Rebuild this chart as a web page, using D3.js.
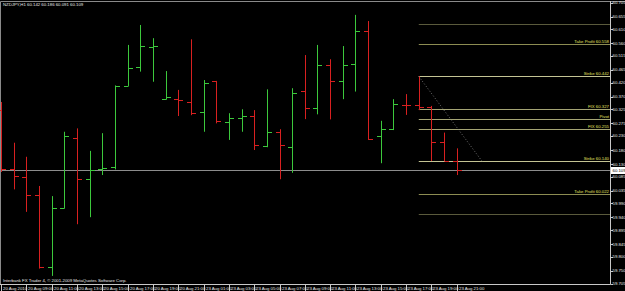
<!DOCTYPE html>
<html>
<head>
<meta charset="utf-8">
<script src="https://cdn.jsdelivr.net/npm/d3@7"></script>
<style>
  html, body { margin: 0; padding: 0; background: #000; }
  svg { display: block; }
  text { font-family: "Liberation Sans", Arial, sans-serif; }
</style>
</head>
<body>
<div class="svg-container"></div>
<script>
// hourly bars, NZDJPY H1
const barTimes = [
  '20 Aug 07:00', '20 Aug 08:00', '20 Aug 09:00', '20 Aug 10:00', '20 Aug 11:00',
  '20 Aug 12:00', '20 Aug 13:00', '20 Aug 14:00', '20 Aug 15:00', '20 Aug 16:00',
  '20 Aug 17:00', '20 Aug 18:00', '20 Aug 19:00', '20 Aug 20:00', '20 Aug 21:00',
  '23 Aug 00:00', '23 Aug 01:00', '23 Aug 02:00', '23 Aug 03:00', '23 Aug 04:00',
  '23 Aug 05:00', '23 Aug 06:00', '23 Aug 07:00', '23 Aug 08:00', '23 Aug 09:00',
  '23 Aug 10:00', '23 Aug 11:00', '23 Aug 12:00', '23 Aug 13:00', '23 Aug 14:00',
  '23 Aug 15:00', '23 Aug 16:00', '23 Aug 17:00', '23 Aug 18:00', '23 Aug 19:00',
  '23 Aug 20:00', '23 Aug 21:00'
];
const opens = [60.322, 60.114, 60.085, 60.020, 59.763, 59.973, 60.224, 60.076, 60.112, 60.119,
  60.409, 60.477, 60.548, 60.361, 60.362, 60.350, 60.314, 60.424, 60.279, 60.294,
  60.301, 60.194, 60.244, 60.190, 60.390, 60.331, 60.482, 60.426, 60.486, 60.604,
  60.230, 60.254, 60.342, 60.340, 60.334, 60.207, 60.142];
const highs = [60.351, 60.206, 60.156, 60.052, 60.016, 60.245, 60.257, 60.177, 60.240, 60.410,
  60.554, 60.625, 60.578, 60.461, 60.394, 60.574, 60.429, 60.426, 60.311, 60.325,
  60.322, 60.396, 60.254, 60.400, 60.518, 60.554, 60.503, 60.550, 60.661, 60.639,
  60.284, 60.361, 60.379, 60.442, 60.337, 60.242, 60.186];
const lows = [60.102, 60.040, 59.960, 59.758, 59.732, 59.972, 59.916, 59.941, 60.091, 60.111,
  60.408, 60.459, 60.423, 60.360, 60.301, 60.304, 60.245, 60.275, 60.216, 60.245,
  60.180, 60.190, 60.076, 60.099, 60.290, 60.307, 60.289, 60.361, 60.388, 60.216,
  60.133, 60.251, 60.305, 60.322, 60.141, 60.141, 60.091];
const closes = [60.114, 60.086, 60.020, 59.762, 59.973, 60.229, 60.076, 60.109, 60.115, 60.409,
  60.471, 60.549, 60.550, 60.368, 60.359, 60.311, 60.417, 60.282, 60.293, 60.301,
  60.197, 60.244, 60.197, 60.382, 60.331, 60.483, 60.426, 60.483, 60.605, 60.220,
  60.255, 60.343, 60.339, 60.334, 60.210, 60.142, 60.109];

// time axis labels (every second bar)
const timeLabels = ['20 Aug 2010', '20 Aug 09:00', '20 Aug 11:00', '20 Aug 13:00', '20 Aug 15:00',
  '20 Aug 17:00', '20 Aug 19:00', '20 Aug 21:00', '23 Aug 01:00', '23 Aug 03:00',
  '23 Aug 05:00', '23 Aug 07:00', '23 Aug 09:00', '23 Aug 11:00', '23 Aug 13:00',
  '23 Aug 15:00', '23 Aug 17:00', '23 Aug 19:00', '23 Aug 21:00'];

// price axis labels
const priceLabels = ['60.705', '60.655', '60.610', '60.560', '60.515', '60.465', '60.420', '60.370',
  '60.325', '60.275', '60.230', '60.180', '60.130', '60.085', '60.035', '59.990', '59.940',
  '59.895', '59.845', '59.800', '59.750', '59.705'];

// pivot tool levels
const levelNames = ['', 'Take Profit', 'Strike', 'FIX', 'Pivot', 'FIX', 'Strike', 'Take Profit', ''];
const levelValues = [60.628, 60.558, 60.442, 60.327, 60.291, 60.255, 60.140, 60.022, 59.952];
const levelKinds = ['edge', 'tp', 'strike', 'fix', 'fix', 'fix', 'strike', 'tp', 'edge'];
const levelStartBar = 33;

// trend line (bar index, price)
const trendBars = [33, 38];
const trendPrices = [60.442, 60.140];

const symbolTitle = 'NZDJPY,H1';

function renderChart() {
  const width = 625;
  const height = 291;
  const plotRight = 610.5;
  const plotBottom = 284.5;

  const bars = barTimes.map((t, i) => ({
    i, t, o: opens[i], h: highs[i], l: lows[i], c: closes[i]
  }));

  const x = d3.scaleLinear()
    .domain([0, barTimes.length - 1])
    .range([1, 1 + 12.66 * (barTimes.length - 1)]);

  const y = d3.scaleLinear()
    .domain([59.705, 60.705])
    .range([283.5, 2.5]);

  const levelColour = { edge: '#5a5a3c', tp: '#8c8c52', strike: '#c4c494', fix: '#a4a474' };

  const svg = d3.select('.svg-container')
    .append('svg')
    .attr('width', width)
    .attr('height', height);

  svg.append('rect')
    .attr('width', width).attr('height', height)
    .attr('fill', '#000');

  // frame
  svg.append('path')
    .attr('d', `M0.5,${plotBottom} V1.5 H${width}`)
    .attr('fill', 'none')
    .attr('stroke', '#8a8a8a')
    .attr('stroke-width', 1);

  // pivot levels
  const levels = svg.append('g');
  levels.selectAll('line')
    .data(levelValues)
    .enter()
    .append('line')
    .attr('x1', x(levelStartBar))
    .attr('x2', plotRight)
    .attr('y1', d => Math.round(y(d)) + 0.5)
    .attr('y2', d => Math.round(y(d)) + 0.5)
    .attr('stroke', (d, i) => levelColour[levelKinds[i]])
    .attr('stroke-width', 1);

  levels.selectAll('text')
    .data(levelValues)
    .enter()
    .append('text')
    .attr('x', plotRight - 1.5)
    .attr('y', d => Math.round(y(d)) - 0.8)
    .attr('text-anchor', 'end')
    .attr('font-size', 4.3)
    .attr('fill', '#e0e060')
    .text((d, i) => {
      if (!levelNames[i]) return '';
      if (levelNames[i] === 'Pivot') return 'Pivot';
      return `${levelNames[i]}    ${d.toFixed(3)}`;
    });

  // dotted trend line
  svg.append('line')
    .attr('x1', x(trendBars[0])).attr('y1', y(trendPrices[0]))
    .attr('x2', x(trendBars[1])).attr('y2', y(trendPrices[1]))
    .attr('stroke', '#8a8a8a')
    .attr('stroke-width', 0.8)
    .attr('stroke-dasharray', '1,2');

  // bid line
  const last = bars[bars.length - 1];
  const bidY = Math.round(y(last.c)) + 0.5;
  svg.append('line')
    .attr('x1', 0).attr('x2', plotRight)
    .attr('y1', bidY).attr('y2', bidY)
    .attr('stroke', '#8c8c8c')
    .attr('stroke-width', 1);

  // OHLC bars
  const barGroup = svg.selectAll('g.bar')
    .data(bars)
    .enter()
    .append('g')
    .attr('class', 'bar')
    .attr('stroke', d => d.c >= d.o ? '#3cc83c' : '#d82020')
    .attr('stroke-width', 1);

  barGroup.append('line')
    .attr('x1', d => Math.round(x(d.i)) + 0.5)
    .attr('x2', d => Math.round(x(d.i)) + 0.5)
    .attr('y1', d => y(d.h))
    .attr('y2', d => y(d.l));

  barGroup.append('line')
    .attr('x1', d => Math.round(x(d.i)) - 4)
    .attr('x2', d => Math.round(x(d.i)) + 0.5)
    .attr('y1', d => Math.round(y(d.o)) + 0.5)
    .attr('y2', d => Math.round(y(d.o)) + 0.5);

  barGroup.append('line')
    .attr('x1', d => Math.round(x(d.i)) + 0.5)
    .attr('x2', d => Math.round(x(d.i)) + 5)
    .attr('y1', d => Math.round(y(d.c)) + 0.5)
    .attr('y2', d => Math.round(y(d.c)) + 0.5);

  // price axis
  svg.append('line')
    .attr('x1', plotRight).attr('x2', plotRight)
    .attr('y1', 1).attr('y2', plotBottom)
    .attr('stroke', '#c8c8c8');

  const priceAxis = svg.append('g');
  priceAxis.selectAll('line')
    .data(priceLabels)
    .enter()
    .append('line')
    .attr('x1', plotRight).attr('x2', plotRight + 2.5)
    .attr('y1', d => Math.round(y(+d)) + 0.5)
    .attr('y2', d => Math.round(y(+d)) + 0.5)
    .attr('stroke', '#c8c8c8');

  priceAxis.selectAll('text')
    .data(priceLabels)
    .enter()
    .append('text')
    .attr('x', plotRight + 2)
    .attr('y', d => y(+d) + 1.5)
    .attr('font-size', 4.3)
    .attr('fill', '#e8e8e8')
    .text(d => d);

  // current price tag
  svg.append('rect')
    .attr('x', plotRight + 0.5).attr('y', bidY - 3.5)
    .attr('width', width - plotRight).attr('height', 7)
    .attr('fill', '#ffffff');
  svg.append('text')
    .attr('x', plotRight + 2).attr('y', bidY + 1.5)
    .attr('font-size', 4.3)
    .attr('fill', '#000')
    .text(last.c.toFixed(3));

  // time axis
  svg.append('line')
    .attr('x1', 0).attr('x2', plotRight)
    .attr('y1', plotBottom).attr('y2', plotBottom)
    .attr('stroke', '#c8c8c8');

  const timeAxis = svg.append('g');
  timeAxis.selectAll('line')
    .data(timeLabels)
    .enter()
    .append('line')
    .attr('x1', (d, i) => Math.round(x(i * 2)) + 0.5)
    .attr('x2', (d, i) => Math.round(x(i * 2)) + 0.5)
    .attr('y1', plotBottom).attr('y2', height)
    .attr('stroke', '#c8c8c8');

  timeAxis.selectAll('text')
    .data(timeLabels)
    .enter()
    .append('text')
    .attr('x', (d, i) => Math.round(x(i * 2)) + 2)
    .attr('y', 289.8)
    .attr('font-size', 4.3)
    .attr('fill', '#e8e8e8')
    .text(d => d);

  // title + copyright
  svg.append('text')
    .attr('x', 3).attr('y', 5.5)
    .attr('font-size', 4.3)
    .attr('fill', '#e8e8e8')
    .text(`${symbolTitle}  ${last.o.toFixed(3)} ${last.h.toFixed(3)} ${last.l.toFixed(3)} ${last.c.toFixed(3)}`);

  svg.append('text')
    .attr('x', 3).attr('y', 281.5)
    .attr('font-size', 4.3)
    .attr('fill', '#e8e8e8')
    .text('Interbank FX Trader 4, \u00a9 2001-2009 MetaQuotes Software Corp.');
}

renderChart();
</script>
</body>
</html>
